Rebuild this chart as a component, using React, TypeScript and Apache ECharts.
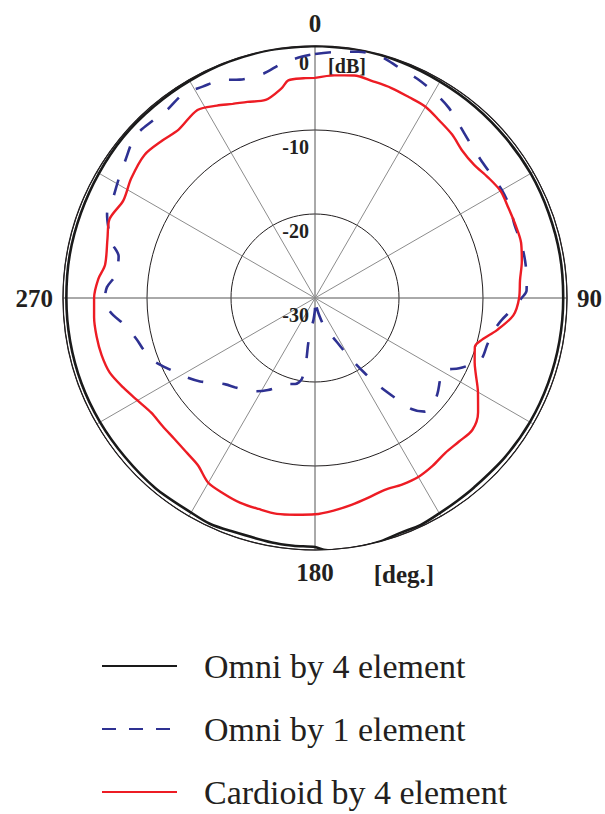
import React, { useEffect, useRef } from "react";
import * as echarts from "echarts";

// ---- data: [angle in degrees (clockwise from top), level in dB] ----
const seriesNames = ["Omni by 4 element", "Omni by 1 element", "Cardioid by 4 element"];

const omni4: number[][] = [
  [0, 0], [10, 0], [20, -0.1], [30, -0.25], [40, -0.3], [50, -0.35], [60, -0.35],
  [70, -0.4], [80, -0.4], [90, -0.45], [100, -0.45], [110, -0.45], [120, -0.45],
  [130, -0.5], [140, -0.55], [145, -0.5], [150, -0.4], [155, -0.2], [160, -0.25],
  [165, 0], [170, 0.1], [175, 0.2], [178, 0], [180, -0.35], [185, -0.4], [190, -0.45],
  [200, -0.5], [205, -0.35], [210, -0.5], [220, -0.45], [230, -0.5], [240, -0.45],
  [250, -0.4], [260, -0.4], [270, -0.4], [280, -0.35], [290, -0.35], [300, -0.3],
  [310, -0.2], [320, -0.2], [330, -0.15], [340, -0.05], [350, 0], [360, 0],
];

const omni1: number[][] = [
  [0, -0.95], [5, -0.6], [10, -0.24], [15, -0.2], [20, -0.8], [25, -1.2], [30, -1.7],
  [35, -2.3], [40, -3.2], [45, -3.9], [50, -4.3], [55, -4.4], [60, -4.3], [65, -4.4],
  [70, -4.7], [75, -4.6], [80, -4.6], [85, -4.7], [88, -4.8], [90, -5.4], [93, -6.4],
  [97, -7.7], [100, -8.3], [105, -8.75], [110, -8.9], [113, -9.8], [116, -10.9],
  [120, -12.6], [124, -12.1], [128, -11.5], [132, -11.1], [136, -11.2], [139, -12.5],
  [141, -14.5], [144, -17.1], [146.5, -19.3], [150, -22.0], [154, -24.3], [158, -25.5],
  [162, -26.4], [166, -27.8], [170, -28.8], [175, -30], [180, -28.8], [184, -27.4],
  [187, -26.4], [188.5, -24.6], [188, -22.3], [189.3, -20.2], [193, -19.5], [197, -19.3],
  [202, -18.6], [207, -17.7], [212, -16.9], [217, -16.3], [222, -15.7], [226, -15.2],
  [230, -14.3], [234, -13.1], [238, -12.1], [242, -11.2], [245, -10.4], [249, -9.3],
  [253, -8.7], [257, -8.2], [262, -7.1], [266, -5.6], [270, -5.0], [273, -5.2],
  [276, -6.0], [279, -6.2], [282, -6.1], [285, -5.0], [288, -4.2], [292, -3.3],
  [296, -3.2], [301, -2.7], [306, -2.1], [312, -1.2], [318, -1.4], [322, -1.5],
  [327, -1.1], [332, -1.5], [337, -1.8], [341, -2.5], [347, -2.6], [352, -1.8],
  [357, -1.2], [360, -0.95],
];

const cardioid4: number[][] = [
  [0, -3.8], [5, -3.4], [10, -3.1], [15, -3.3], [20, -3.4], [25, -3.6], [30, -3.7],
  [35, -4.2], [40, -4.6], [45, -5.2], [50, -5.3], [55, -4.9], [60, -4.5], [65, -4.6],
  [70, -4.6], [75, -4.6], [80, -5.0], [85, -5.5], [90, -5.7], [95, -6.3], [100, -8.0],
  [104, -9.5], [107, -10.1], [112, -9.5], [115, -8.9], [120, -7.6], [125, -6.3],
  [130, -5.55], [135, -5.8], [140, -5.9], [145, -5.6], [150, -5.4], [155, -5.5],
  [160, -5.7], [165, -5.4], [170, -5.0], [175, -4.6], [180, -4.25], [185, -4.1],
  [190, -3.9], [195, -4.0], [200, -4.05], [205, -4.3], [210, -4.6], [215, -5.7],
  [220, -6.1], [225, -6.3], [230, -6.3], [235, -6.2], [240, -5.6], [245, -4.8],
  [250, -4.0], [255, -3.7], [260, -3.6], [265, -3.6], [270, -3.7], [275, -4.1],
  [279, -4.7], [286, -4.3], [291, -3.8], [297, -4.4], [303, -3.9], [310, -3.5],
  [316, -3.9], [321, -4.2], [328, -3.6], [333, -4.3], [337, -4.9], [341, -5.3],
  [346, -5.7], [351, -4.7], [353, -3.9], [357, -3.8], [360, -3.8],
];

const radiusMin = -30;
const radiusMax = 0;
const radiusStep = 10;
const angleLabelValues = [0, 90, 180, 270];
const radiusUnit = "[dB]";
const angleUnit = "[deg.]";

const serif = "'Liberation Serif', 'Times New Roman', serif";

const toPolar = (pts: number[][]) => pts.map(([a, v]) => [v, a]);

export default function App() {
  const ref = useRef<HTMLDivElement>(null);
  useEffect(() => {
    if (!ref.current) return;
    const chart = echarts.init(ref.current, undefined, { renderer: "svg" });
    const colors = ["#1a1a1a", "#2e3192", "#ed1c24"];
    chart.setOption({
      animation: false,
      backgroundColor: "#ffffff",
      polar: { center: [315, 298], radius: 252 },
      angleAxis: {
        type: "value",
        min: 0,
        max: 360,
        interval: 30,
        startAngle: 90,
        clockwise: true,
        axisLine: { show: true, lineStyle: { color: "#231f20", width: 1.2 } },
        axisTick: { show: false },
        axisLabel: {
          margin: 10,
          fontFamily: serif,
          fontWeight: "bold",
          fontSize: 25,
          color: "#231f20",
          formatter: (v: number) => (angleLabelValues.indexOf(v) >= 0 ? String(v) : ""),
        },
        splitLine: {
          show: true,
          lineStyle: { color: ["#555555", "#8c8c8c", "#8c8c8c"], width: 1 },
        },
      },
      radiusAxis: {
        type: "value",
        min: radiusMin,
        max: radiusMax,
        interval: radiusStep,
        axisLine: { show: false },
        axisTick: { show: false },
        axisLabel: {
          fontFamily: serif,
          fontWeight: "bold",
          fontSize: 20,
          color: "#231f20",
          margin: 6,
          verticalAlign: "top",
          padding: [7, 0, 0, 0],
        },
        splitLine: { show: true, lineStyle: { color: "#231f20", width: 1 } },
      },
      legend: {
        orient: "vertical",
        left: 101,
        top: 648,
        height: 300,
        padding: 0,
        itemWidth: 75,
        itemHeight: 14,
        itemGap: 27,
        itemStyle: { opacity: 0 },
        textStyle: {
          fontFamily: serif,
          fontSize: 34,
          color: "#231f20",
          lineHeight: 36,
          padding: [0, 0, 0, 22],
        },
        data: [
          { name: seriesNames[0], itemStyle: { opacity: 0 }, lineStyle: { color: colors[0], width: 2, type: "solid" } },
          { name: seriesNames[1], itemStyle: { opacity: 0 }, lineStyle: { color: colors[1], width: 2, type: [14, 13] } },
          { name: seriesNames[2], itemStyle: { opacity: 0 }, lineStyle: { color: colors[2], width: 2, type: "solid" } },
        ],
      },
      graphic: [
        {
          type: "text",
          x: 347,
          y: 66,
          style: {
            text: radiusUnit,
            font: `bold 20px ${serif}`,
            fill: "#231f20",
            textAlign: "center",
            textVerticalAlign: "middle",
          },
        },
        {
          type: "text",
          x: 404,
          y: 574,
          style: {
            text: angleUnit,
            font: `bold 25px ${serif}`,
            fill: "#231f20",
            textAlign: "center",
            textVerticalAlign: "middle",
          },
        },
      ],
      series: [
        {
          name: seriesNames[0],
          type: "line",
          coordinateSystem: "polar",
          data: toPolar(omni4),
          symbol: "none",
          smooth: 0.3,
          clip: false,
          lineStyle: { color: colors[0], width: 2.6 },
          itemStyle: { color: colors[0] },
          z: 3,
        },
        {
          name: seriesNames[1],
          type: "line",
          coordinateSystem: "polar",
          data: toPolar(omni1),
          symbol: "none",
          smooth: 0.3,
          clip: false,
          lineStyle: { color: colors[1], width: 2.6, type: [16, 19] },
          itemStyle: { color: colors[1] },
          z: 4,
        },
        {
          name: seriesNames[2],
          type: "line",
          coordinateSystem: "polar",
          data: toPolar(cardioid4),
          symbol: "none",
          smooth: 0.3,
          clip: false,
          lineStyle: { color: colors[2], width: 2.4 },
          itemStyle: { color: colors[2] },
          z: 5,
        },
      ],
    });
    return () => chart.dispose();
  }, []);
  return (
    <div
      ref={ref}
      style={{ position: "fixed", left: 0, top: 0, width: 605, height: 814, background: "#fff" }}
    />
  );
}
